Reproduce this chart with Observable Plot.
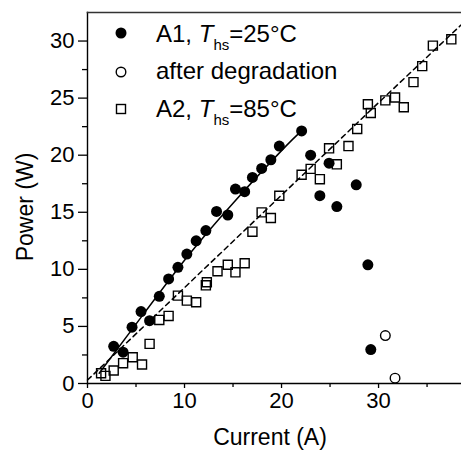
<!DOCTYPE html>
<html>
<head>
<meta charset="utf-8">
<script src="https://cdn.jsdelivr.net/npm/d3@7"></script>
<script src="https://cdn.jsdelivr.net/npm/@observablehq/plot@0.6"></script>
<style>
  html, body { margin: 0; padding: 0; background: #fff; }
  #chart { width: 461px; height: 451px; }
</style>
</head>
<body>
<div id="chart"></div>
<script>
// A1, Ths = 25 °C (filled circles)
const currentA1 = [2.7, 3.67, 4.59, 5.52, 6.4, 7.4, 8.36, 9.32, 10.24, 11.2, 12.2, 13.3, 14.46, 15.25, 16.2, 17.0, 17.95, 18.9, 19.77, 22.07, 23.0, 24.9, 23.95, 25.7, 27.7, 28.9, 29.2];
const powerA1   = [3.26, 2.74, 4.93, 6.3, 5.5, 7.64, 9.16, 10.18, 11.34, 12.5, 13.4, 15.07, 14.76, 17.03, 16.8, 18.05, 18.84, 19.6, 20.8, 22.13, 20.0, 19.3, 16.45, 15.5, 17.4, 10.4, 2.97];

// after degradation (open circles)
const currentDeg = [30.7, 31.7];
const powerDeg   = [4.2, 0.47];

// A2, Ths = 85 °C (open squares)
const currentA2 = [1.4, 1.85, 2.7, 3.67, 4.66, 5.62, 6.4, 7.4, 8.36, 9.32, 10.24, 11.2, 12.3, 12.2, 13.4, 14.46, 15.25, 16.2, 17.0, 17.95, 18.9, 19.77, 22.07, 23.0, 23.95, 24.9, 25.7, 26.9, 27.8, 28.9, 29.2, 30.7, 31.7, 32.6, 33.6, 34.5, 35.6, 37.5];
const powerA2   = [0.9, 0.67, 1.14, 1.78, 2.3, 1.66, 3.47, 5.57, 5.92, 7.7, 7.26, 7.12, 8.87, 8.6, 9.83, 10.4, 9.74, 10.53, 13.3, 14.99, 14.5, 16.45, 18.29, 18.8, 17.9, 20.6, 19.2, 20.8, 22.3, 24.46, 23.7, 24.8, 25.05, 24.2, 26.4, 27.8, 29.6, 30.15];

// fit curves
const fitA1I = [1.2, 5, 10, 15, 20, 22.1];
const fitA1P = [0.9, 5.2, 10.8, 15.8, 20.4, 22.15];
const fitA2I = [0, 10, 20, 30, 38.5];
const fitA2P = [0.3, 8.4, 16.5, 24.6, 31.4];

const xTicks = [0, 10, 20, 30];
const xMinor = [5, 15, 25, 35];
const yTicks = [0, 5, 10, 15, 20, 25, 30];
const yMinor = [2.5, 7.5, 12.5, 17.5, 22.5, 27.5];

const xTitle = "Current (A)";
const yTitle = "Power (W)";
const legendItems = ["A1, ", "after degradation", "A2, "];
const legendTemps = ["=25°C", null, "=85°C"];

const zip = (xs, ys) => xs.map((x, i) => ({x, y: ys[i]}));
const a1 = zip(currentA1, powerA1);
const deg = zip(currentDeg, powerDeg);
const a2 = zip(currentA2, powerA2);
const fit1 = zip(fitA1I, fitA1P);
const fit2 = zip(fitA2I, fitA2P);

const font = "'Liberation Sans', Arial, Helvetica, sans-serif";

const chart = Plot.plot({
  width: 461,
  height: 451,
  marginLeft: 87,
  marginRight: 0,
  marginTop: 12,
  marginBottom: 68,
  style: {fontFamily: font, fontSize: "22px", color: "#000", background: "#fff", overflow: "visible"},
  x: {domain: [0, 38.55]},
  y: {domain: [0, 32.5]},
  marks: [
    Plot.axisX({ticks: xTicks, tickSize: 5, tickPadding: 4, fontSize: 22, label: null, stroke: "#000", strokeWidth: 1.3}),
    Plot.axisX({ticks: xMinor, tickSize: 4, text: null, label: null, stroke: "#000", strokeWidth: 1.3}),
    Plot.axisY({ticks: yTicks, tickSize: 9, tickPadding: 4, fontSize: 22, label: null, stroke: "#000", strokeWidth: 1.3}),
    Plot.axisY({ticks: yMinor, tickSize: 5, text: null, label: null, stroke: "#000", strokeWidth: 1.3}),
    Plot.frame({anchor: "left", stroke: "#000", strokeWidth: 1.4}),
    Plot.frame({anchor: "bottom", stroke: "#000", strokeWidth: 1.4}),
    Plot.frame({anchor: "top", stroke: "#333", strokeWidth: 1.6}),
    Plot.line(fit1, {x: "x", y: "y", stroke: "#000", strokeWidth: 1.5, curve: "natural"}),
    Plot.dot(a1, {x: "x", y: "y", r: 5.5, fill: "#000", stroke: "none"}),
    Plot.dot(deg, {x: "x", y: "y", r: 4.8, fill: "#fff", stroke: "#000", strokeWidth: 1.4}),
    Plot.dot(a2, {x: "x", y: "y", r: 5.1, symbol: "square", fill: "none", stroke: "#000", strokeWidth: 1.4}),
    Plot.line(fit2, {x: "x", y: "y", stroke: "#000", strokeWidth: 1.5, strokeDasharray: "5,4"})
  ]
});

document.getElementById("chart").appendChild(chart);

const svg = d3.select(chart);

// axis titles
const titles = svg.append("g").attr("font-family", font).attr("fill", "#000").attr("text-anchor", "middle").attr("font-size", 23);
titles.append("text").attr("x", 270).attr("y", 445).text(xTitle);
titles.append("text").attr("transform", "translate(33,207) rotate(-90)").text(yTitle);

// legend inside plot area (top-left)
const lg = svg.append("g").attr("font-family", font).attr("fill", "#000").attr("text-anchor", "start");
const rowY = [33, 72, 109];
const baseY = [42, 79, 117];
const symX = 121, textX = 156;
legendItems.forEach((label, i) => {
  const cy = rowY[i];
  if (i === 0) lg.append("circle").attr("cx", symX).attr("cy", cy).attr("r", 5.5).attr("fill", "#000");
  if (i === 1) lg.append("circle").attr("cx", symX).attr("cy", cy).attr("r", 4.8).attr("fill", "#fff").attr("stroke", "#000").attr("stroke-width", 1.4);
  if (i === 2) lg.append("rect").attr("x", symX - 4.5).attr("y", cy - 4.5).attr("width", 9).attr("height", 9).attr("fill", "none").attr("stroke", "#000").attr("stroke-width", 1.4);
  const t = lg.append("text").attr("x", textX).attr("y", baseY[i]).attr("font-size", 24);
  t.append("tspan").text(label);
  if (legendTemps[i]) {
    t.append("tspan").attr("font-style", "italic").text("T");
    t.append("tspan").attr("font-size", 15).attr("dy", 8).text("hs");
    t.append("tspan").attr("dy", -8).text(legendTemps[i]);
  }
});
</script>
</body>
</html>
